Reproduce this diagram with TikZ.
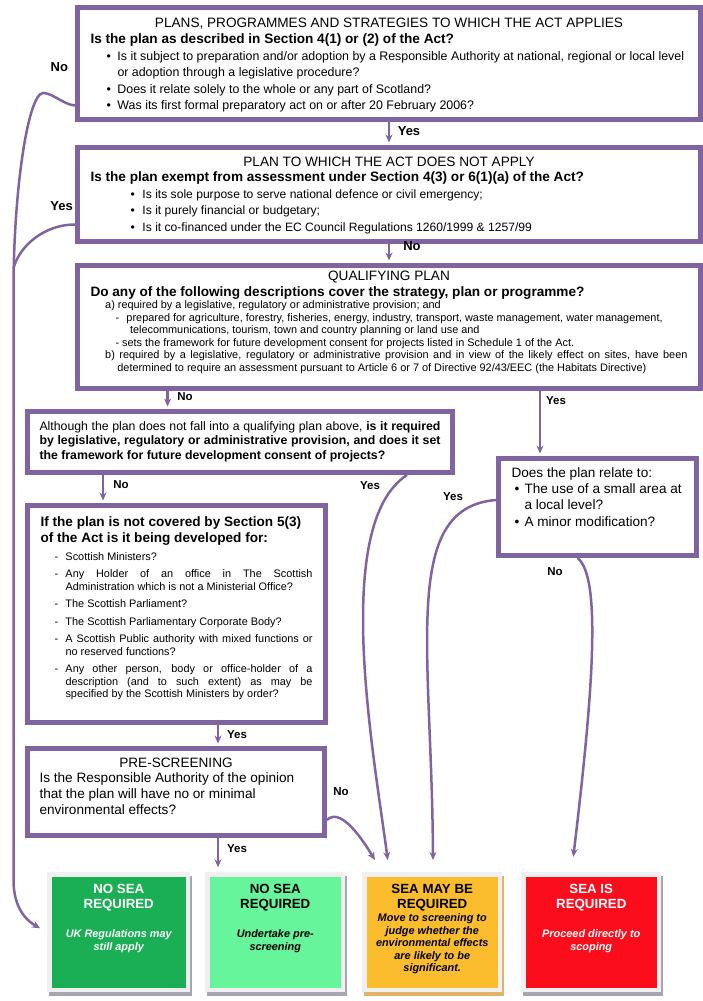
\documentclass[tikz,border=0pt]{standalone}
\usepackage{fontspec}
\setmainfont{Liberation Sans}
\usetikzlibrary{arrows.meta,shadows,backgrounds}

\definecolor{boxpurple}{HTML}{8064A2}
\definecolor{darkgreen}{HTML}{1AAF54}
\definecolor{lightgreen}{HTML}{66F59A}
\definecolor{seaorange}{HTML}{FBBD2E}
\definecolor{seared}{HTML}{FC0D1B}
\definecolor{framegray}{HTML}{F0F0F0}
\definecolor{shadowgray}{HTML}{A7A5B0}
\definecolor{shadowtan}{HTML}{E2B26C}

\newcommand{\bigfont}{\fontsize{13.6}{15.5}\selectfont}
\newcommand{\midfont}{\fontsize{12.4}{16.5}\selectfont}
\newcommand{\smallfont}{\fontsize{10.9}{12.5}\selectfont}
\newcommand{\topline}{\rule{0pt}{11pt}}
% box body: width, height, top gap, content
\newcommand{\boxbody}[4]{\begin{minipage}[t][#2pt][t]{#1pt}\vspace*{#3pt}#4\end{minipage}}
% bullet item: left skip, bullet width, text
\newcommand{\bitem}[3]{\par\leftskip=#1pt\hangindent=#2pt\hangafter=1\noindent\makebox[#2pt][l]{\textbullet}#3\par}
% dash item
\newcommand{\ditem}[1]{\par\leftskip=14pt\hangindent=11pt\hangafter=1\noindent\makebox[11pt][l]{-}#1\par\vspace{5pt}}

\begin{document}
\begin{tikzpicture}[x=1pt, y=-1pt,
    planbox/.style={draw=boxpurple, line width=5pt, fill=white, inner xsep=13pt, inner ysep=0pt, anchor=north west},
    outcome/.style={draw=framegray, line width=4.5pt, inner sep=0pt, anchor=north west,
      drop shadow={shadow xshift=2pt, shadow yshift=-3.5pt, shadow scale=1.035, fill=#1, opacity=1}},
    outcome/.default=shadowgray,
    flow/.style={draw=boxpurple, line width=2.5pt, shorten >=2.5pt, -{Stealth[length=8pt,width=7pt]}},
    link/.style={draw=boxpurple, line width=2.5pt},
    answer/.style={font=\fontsize{13}{13}\selectfont\bfseries, inner sep=0pt},
    minor/.style={font=\fontsize{11.5}{11.5}\selectfont\bfseries, inner sep=0pt}]
\useasboundingbox (0,0) rectangle (702,1001);

    % Question boxes
\node[planbox] (applies) at (75,5)
  {\boxbody{597}{112}{9.5}{%
   {\centering\bigfont\topline PLANS, PROGRAMMES AND STRATEGIES TO WHICH THE ACT APPLIES\par}
   {\bigfont\bfseries Is the plan as described in Section 4(1) or (2) of the Act?\par}
   \midfont
   \bitem{16}{11}{Is it subject to preparation and/or adoption by a Responsible Authority at national, regional or local level\newline or adoption through a legislative procedure?}
   \bitem{16}{11}{Does it relate solely to the whole or any part of Scotland?}
   \bitem{16}{11}{Was its first formal preparatory act on or after 20 February 2006?}}};

\node[planbox] (notapply) at (75,145)
  {\boxbody{597}{94}{7.8}{%
   {\centering\bigfont\topline PLAN TO WHICH THE ACT DOES NOT APPLY\par}
   {\bigfont\bfseries Is the plan exempt from assessment under Section 4(3) or 6(1)(a) of the Act?\par}
   \fontsize{12.1}{16.5}\selectfont
   \bitem{40}{12}{Is its sole purpose to serve national defence or civil emergency;}
   \bitem{40}{12}{Is it purely financial or budgetary;}
   \bitem{40}{12}{Is it co-financed under the EC Council Regulations 1260/1999 \& 1257/99}}};

\node[planbox] (qualify) at (75,263)
  {\boxbody{597}{123}{4.2}{%
   {\centering\bigfont\topline QUALIFYING PLAN\par}
   {\bigfont\bfseries Do any of the following descriptions cover the strategy, plan or programme?\par}
   \smallfont
   \par\leftskip=14.7pt\noindent a) required by a legislative, regulatory or administrative provision; and\par
   \leftskip=25pt\hangindent=14.5pt\hangafter=1\noindent\makebox[11pt][l]{-}prepared for agriculture, forestry, fisheries, energy, industry, transport, waste management, water management,\newline telecommunications, tourism, town and country planning or land use and\par
   \leftskip=25pt\noindent - sets the framework for future development consent for projects listed in Schedule 1 of the Act.\par
   \leftskip=14.7pt\hangindent=12.2pt\hangafter=1\noindent b) required by a legislative, regulatory or administrative provision and in view of the likely effect on sites, have been\linebreak determined to require an assessment pursuant to Article 6 or 7 of Directive 92/43/EEC (the Habitats Directive)\par}};

\node[planbox, inner xsep=12pt] (nonqual) at (25,409)
  {\boxbody{401}{61}{8}{\fontsize{12.3}{14.3}\selectfont\topline Although the plan does not fall into a qualifying plan above, \textbf{is it required\linebreak by legislative, regulatory or administrative provision, and does it set\linebreak the framework for future development consent of projects?}}};

\node[planbox] (smallarea) at (496,456)
  {\boxbody{172}{97}{7.5}{\fontsize{13.6}{16}\selectfont
   \topline Does the plan relate to:\par
   \bitem{3}{10}{The use of a small area at\newline a local level?}
   \vspace{1pt}
   \bitem{3}{10}{A minor modification?}}};

\node[planbox] (developed) at (25,503)
  {\boxbody{272}{217}{10}{%
   {\bigfont\bfseries\topline If the plan is not covered by Section 5(3)\newline of the Act is it being developed for:\par}
   \smallfont
   \vspace{5.5pt}
   \ditem{Scottish Ministers?}
   \ditem{Any Holder of an office in The Scottish\linebreak Administration which is not a Ministerial Office?}
   \ditem{The Scottish Parliament?}
   \ditem{The Scottish Parliamentary Corporate Body?}
   \ditem{A Scottish Public authority with mixed functions or\linebreak no reserved functions?}
   \ditem{Any other person, body or office-holder of a\linebreak description (and to such extent) as may be\linebreak specified by the Scottish Ministers by order?}}};

\node[planbox, inner xsep=12pt] (prescreen) at (25,746)
  {\boxbody{273}{87}{7.5}{\fontsize{13.6}{15.7}\selectfont
   {\centering\topline PRE-SCREENING\par}
   Is the Responsible Authority of the opinion\newline that the plan will have no or minimal\newline environmental effects?}};

    % Outcome boxes
\node[outcome, fill=darkgreen, text=white] (nosea) at (47.25,872.25)
  {\boxbody{138.5}{115.5}{7.65}{\centering\fontsize{13.3}{15}\selectfont\bfseries\topline NO SEA\\ REQUIRED\par
   \vspace{17.3pt}\fontsize{10.9}{12.3}\selectfont\itshape UK Regulations may\\ still apply\par}};
\node[outcome, fill=lightgreen, text=black] (noseapre) at (205.25,872.25)
  {\boxbody{135.5}{115.5}{7.65}{\centering\fontsize{13.3}{15}\selectfont\bfseries\topline NO SEA\\ REQUIRED\par
   \vspace{17.3pt}\fontsize{10.9}{12.3}\selectfont\itshape Undertake pre-\\ screening\par}};
\node[outcome=shadowtan, fill=seaorange, text=black] (maybe) at (362.25,872.25)
  {\boxbody{135.5}{115.5}{7.65}{\centering\fontsize{13.3}{15}\selectfont\bfseries\topline SEA MAY BE\\ REQUIRED\par
   \vspace{1.2pt}\fontsize{10.9}{12.5}\selectfont\itshape Move to screening to\\ judge whether the\\ environmental effects\\ are likely to be\\ significant.\par}};
\node[outcome, fill=seared, text=white] (seareq) at (521.25,872.25)
  {\boxbody{135.5}{115.5}{7.65}{\centering\fontsize{13.3}{15}\selectfont\bfseries\topline SEA IS\\ REQUIRED\par
   \vspace{17.3pt}\fontsize{10.9}{12.3}\selectfont\itshape Proceed directly to\\ scoping\par}};

    % Connector end points
\coordinate (q-no) at ([xshift=92.6pt]qualify.south west);
\coordinate (q-yes) at ([xshift=465pt]qualify.south west);
\coordinate (n-no) at ([xshift=78pt]nonqual.south west);
\coordinate (n-yes) at ([xshift=382pt]nonqual.south west);
\coordinate (d-yes) at ([xshift=193pt]developed.south west);
\coordinate (p-yes) at ([xshift=193pt]prescreen.south west);
\coordinate (m-no) at ([xshift=14pt,yshift=10pt]maybe.north west);
\coordinate (m-left) at ([xshift=25.75pt,yshift=9.75pt]maybe.north west);
\coordinate (m-right) at ([xshift=70.75pt,yshift=9.75pt]maybe.north west);
\coordinate (r-in) at ([xshift=51.75pt,yshift=13pt]seareq.north west);
\coordinate (g-in) at ([xshift=-5pt,yshift=2.75pt]nosea.west);
\coordinate (merge) at (13.5,268);

    % Connectors
\begin{scope}[on background layer]
\draw[flow] (applies.south) -- (notapply.north);
\draw[flow] (notapply.south) -- (qualify.north);
\draw[flow] (q-no) -- (q-no |- nonqual.north);
\draw[flow] (q-yes) -- (q-yes |- smallarea.north);
\draw[flow] (n-no) -- (n-no |- developed.north);
\draw[flow] (d-yes) -- (d-yes |- prescreen.north);
\draw[flow, shorten >=5pt] (p-yes) -- (p-yes |- noseapre.north);
\draw[flow] ([yshift=-42pt]applies.west) .. controls +(-12,-1) and +(10,0) .. (43,93)
    .. controls +(-15,1) and +(0,-100) .. (13.5,290) -- (13.5,880)
    .. controls +(0,30) and +(-14,-8) .. (g-in);
\draw[link] ([yshift=-30pt]notapply.west) .. controls +(-30,0) and +(6.5,-23) .. (merge);
\draw[flow] (n-yes) .. controls +(-77,50) and +(-13,-102.5) .. (m-left);
\draw[flow] ([yshift=7pt]smallarea.west) .. controls +(-96,7.5) and +(-1,-212.5) .. (m-right);
\draw[flow] ([xshift=-20pt]smallarea.south) .. controls +(25,19) and +(19,-159) .. (r-in);
\draw[flow] ([yshift=-28pt]prescreen.east) .. controls +(12,-12) and +(-18,-30) .. (m-no);
\end{scope}

    % Answer labels
\node[answer] (no-applies) at (59.3,66.7) {No};
\node[answer] (yes-exempt) at (61.7,206) {Yes};
\node[answer] (yes-applies) at (409,131) {Yes};
\node[answer] (no-exempt) at (412,246) {No};
\node[minor] (no-qualify) at (185,397) {No};
\node[minor] (yes-qualify) at (556,400.7) {Yes};
\node[minor] (no-nonqual) at (121,485) {No};
\node[minor] (yes-nonqual) at (370,486) {Yes};
\node[minor] (yes-small) at (453,497) {Yes};
\node[minor] (no-small) at (555,572) {No};
\node[minor] (yes-developed) at (237,735) {Yes};
\node[minor] (no-prescreen) at (341,792) {No};
\node[minor] (yes-prescreen) at (237,849) {Yes};
\end{tikzpicture}
\end{document}
